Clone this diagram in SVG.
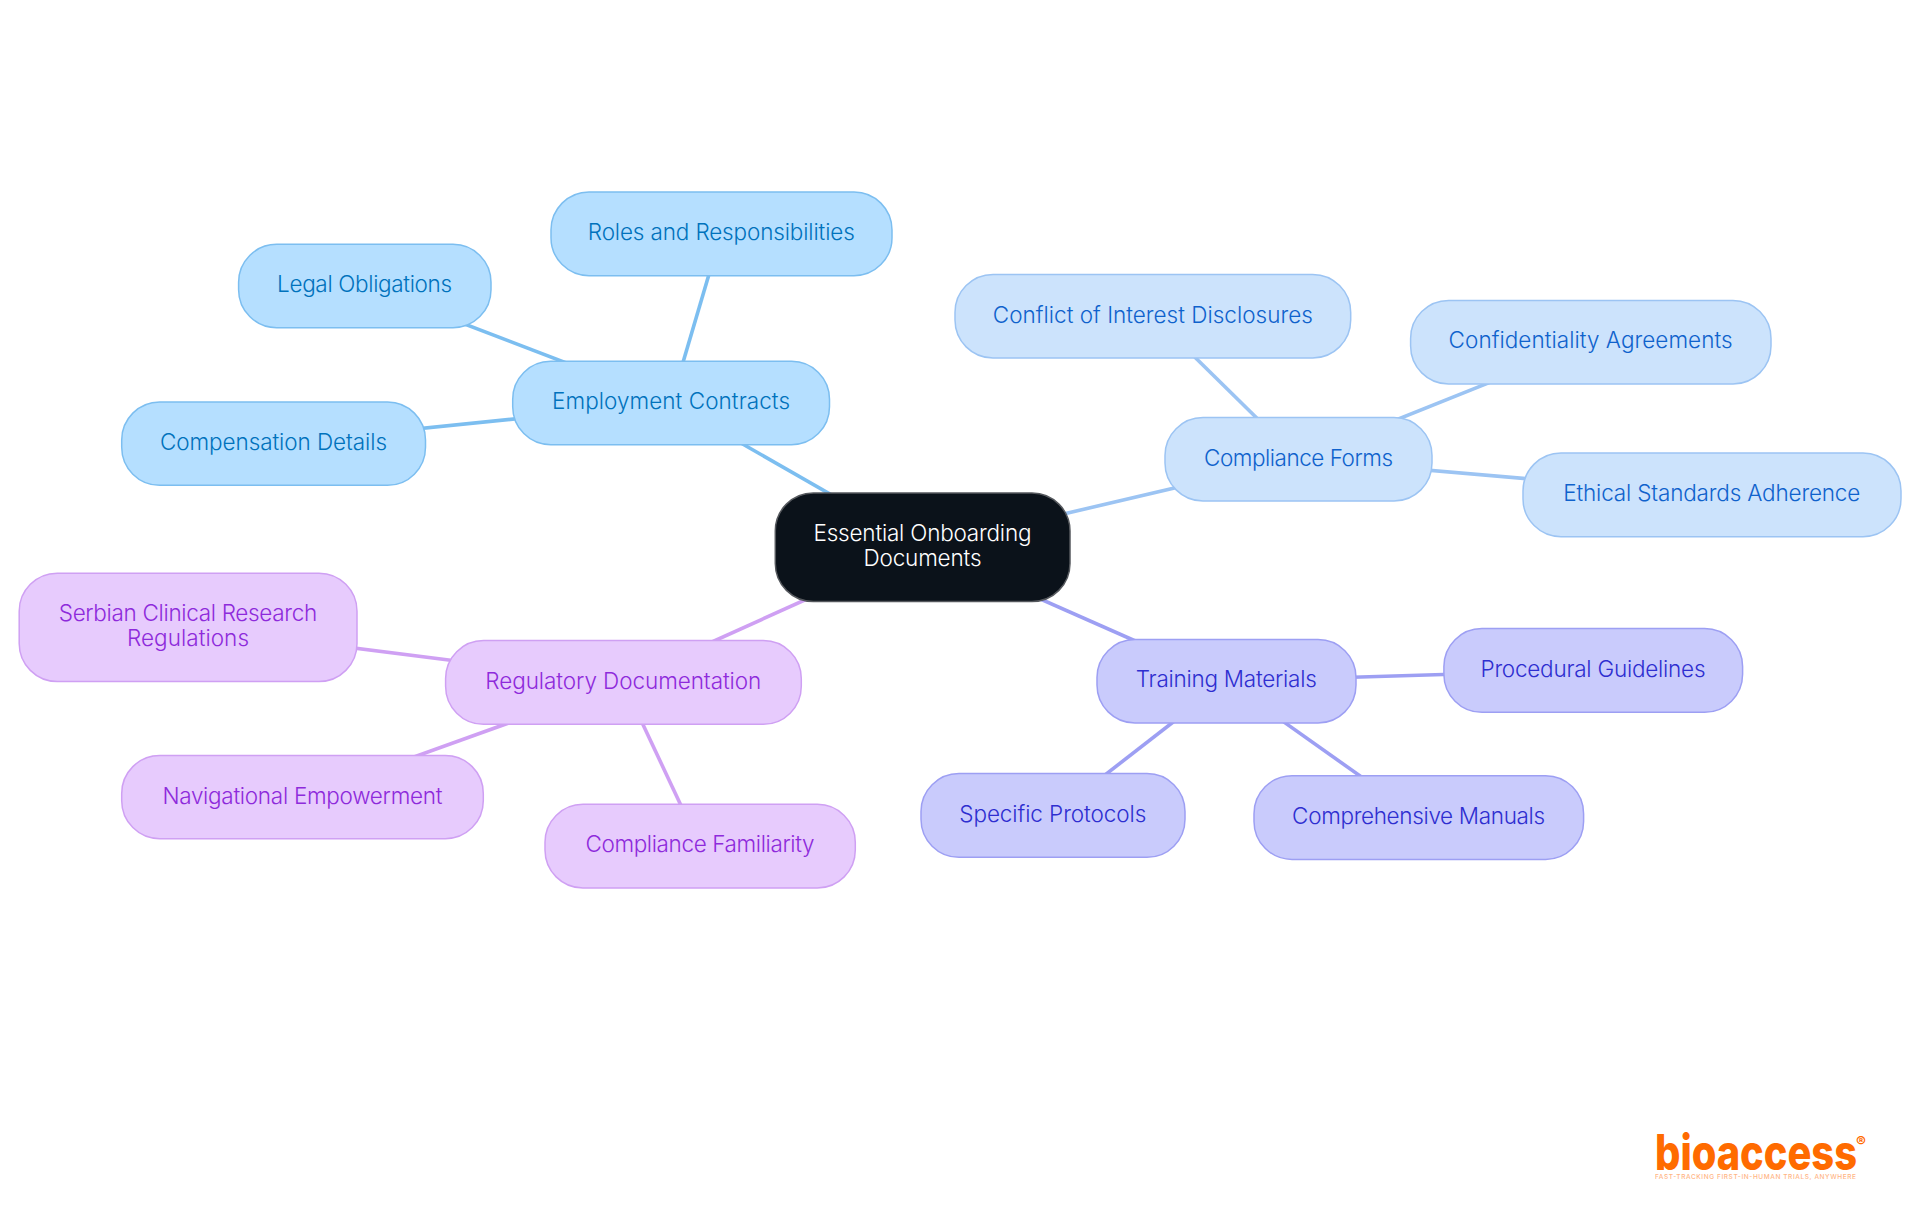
<svg xmlns="http://www.w3.org/2000/svg" width="1920" height="1215" viewBox="0 0 1920 1215">
<style>
text{font-family:"Inter","Noto Sans","Liberation Sans",sans-serif;font-size:22.5px;font-weight:350}
.n{stroke-width:1.5;}
.e line{stroke-width:3.6;fill:none}
.a rect{fill:#b5dfff;stroke:#7cbef0}.a text{fill:#0072bc}.a-e{stroke:#7cbef0}
.b rect{fill:#cce3fc;stroke:#9cc4f3}.b text{fill:#0f62cc}.b-e{stroke:#9cc4f3}
.c rect{fill:#c9cbfc;stroke:#9d9ff3}.c text{fill:#2e2ed0}.c-e{stroke:#9d9ff3}
.d rect{fill:#e7cbfd;stroke:#cfa0f3}.d text{fill:#8e2adb}.d-e{stroke:#cfa0f3}
.r rect{fill:#0b121a;stroke:#55585d}.r text{fill:#fff}
.logo{fill:#ff6b00}
</style>
<rect width="1920" height="1215" fill="#fff"/>
<g id="connectors" class="e">
<line class="a-e" x1="922.5" y1="547" x2="671" y2="403"/>
<line class="b-e" x1="922.5" y1="547" x2="1298.5" y2="459"/>
<line class="c-e" x1="922.5" y1="547" x2="1226" y2="681"/>
<line class="d-e" x1="922.5" y1="547" x2="623" y2="682"/>
<line class="a-e" x1="671" y1="403" x2="721" y2="233.7"/>
<line class="a-e" x1="671" y1="403" x2="365" y2="286"/>
<line class="a-e" x1="671" y1="403" x2="273.5" y2="443.5"/>
<line class="b-e" x1="1298.5" y1="459" x2="1153" y2="316"/>
<line class="b-e" x1="1298.5" y1="459" x2="1590.5" y2="342"/>
<line class="b-e" x1="1298.5" y1="459" x2="1712" y2="494.7"/>
<line class="c-e" x1="1226" y1="681" x2="1593" y2="670"/>
<line class="c-e" x1="1226" y1="681" x2="1053" y2="815.3"/>
<line class="c-e" x1="1226" y1="681" x2="1418.6" y2="817.4"/>
<line class="d-e" x1="623" y1="682" x2="188" y2="627"/>
<line class="d-e" x1="623" y1="682" x2="302.4" y2="797"/>
<line class="d-e" x1="623" y1="682" x2="700" y2="846"/>
</g>
<g id="root" class="r"><rect class="n" x="775.3" y="493" width="294.7" height="108.5" rx="38"/>
<text x="922.5" y="541" text-anchor="middle" textLength="218">Essential Onboarding</text>
<text x="922.5" y="565.7" text-anchor="middle" textLength="118">Documents</text></g>
<g id="employment" class="a"><rect class="n" x="512.7" y="361.3" width="316.8" height="83.4" rx="38"/><text x="671" y="409" text-anchor="middle" textLength="238">Employment Contracts</text></g>
<g id="roles" class="a"><rect class="n" x="551" y="192" width="341" height="83.7" rx="38"/><text x="721.3" y="240" text-anchor="middle" textLength="267">Roles and Responsibilities</text></g>
<g id="legal" class="a"><rect class="n" x="238.6" y="244.3" width="252.4" height="83.4" rx="38"/><text x="364.6" y="292" text-anchor="middle" textLength="175">Legal Obligations</text></g>
<g id="compensation" class="a"><rect class="n" x="121.7" y="402" width="303.8" height="83.3" rx="38"/><text x="273.5" y="450" text-anchor="middle" textLength="227">Compensation Details</text></g>
<g id="compliance" class="b"><rect class="n" x="1165" y="417.6" width="267" height="83.4" rx="38"/><text x="1298.5" y="466" text-anchor="middle" textLength="189">Compliance Forms</text></g>
<g id="conflict" class="b"><rect class="n" x="955" y="274.4" width="395.7" height="83.6" rx="38"/><text x="1152.8" y="323" text-anchor="middle" textLength="320">Conflict of Interest Disclosures</text></g>
<g id="confidentiality" class="b"><rect class="n" x="1410.6" y="300.4" width="360.4" height="83.6" rx="38"/><text x="1590.6" y="348" text-anchor="middle" textLength="284">Confidentiality Agreements</text></g>
<g id="ethical" class="b"><rect class="n" x="1523" y="453" width="378" height="83.7" rx="38"/><text x="1711.8" y="500.7" text-anchor="middle" textLength="297">Ethical Standards Adherence</text></g>
<g id="training" class="c"><rect class="n" x="1097" y="639.6" width="259" height="83.4" rx="38"/><text x="1226.3" y="687" text-anchor="middle" textLength="181">Training Materials</text></g>
<g id="procedural" class="c"><rect class="n" x="1443.9" y="628.6" width="298.7" height="83.7" rx="38"/><text x="1593" y="677" text-anchor="middle" textLength="225">Procedural Guidelines</text></g>
<g id="specific" class="c"><rect class="n" x="921" y="773.6" width="264" height="83.7" rx="38"/><text x="1052.8" y="822" text-anchor="middle" textLength="187">Specific Protocols</text></g>
<g id="comprehensive" class="c"><rect class="n" x="1254" y="775.7" width="329.6" height="83.7" rx="38"/><text x="1418.6" y="824.3" text-anchor="middle" textLength="253">Comprehensive Manuals</text></g>
<g id="regulatory" class="d"><rect class="n" x="445.6" y="640.6" width="355.7" height="83.7" rx="38"/><text x="623.3" y="689" text-anchor="middle" textLength="276">Regulatory Documentation</text></g>
<g id="serbian" class="d"><rect class="n" x="19.2" y="573.2" width="337.8" height="108.3" rx="38"/>
<text x="188" y="621" text-anchor="middle" textLength="258.5">Serbian Clinical Research</text>
<text x="188" y="646.3" text-anchor="middle" textLength="122">Regulations</text></g>
<g id="navigational" class="d"><rect class="n" x="121.7" y="755.5" width="361.6" height="83.2" rx="38"/><text x="302.4" y="804.3" text-anchor="middle" textLength="280">Navigational Empowerment</text></g>
<g id="familiarity" class="d"><rect class="n" x="545" y="804.3" width="310.3" height="83.7" rx="38"/><text x="700" y="852" text-anchor="middle" textLength="229">Compliance Familiarity</text></g>
<g id="logo">
<text class="logo" transform="translate(1655 1170) scale(1 1.1)" textLength="202" lengthAdjust="spacingAndGlyphs" style="font-size:45px;font-weight:800">bioaccess</text>
<text class="logo" x="1861" y="1147" text-anchor="middle" style="font-size:15px;font-weight:700">®</text>
<text class="logo" x="1655" y="1179" textLength="201" opacity="0.5" style="font-size:6.5px;font-weight:500">FAST-TRACKING FIRST-IN-HUMAN TRIALS, ANYWHERE</text>
</g>
</svg>
